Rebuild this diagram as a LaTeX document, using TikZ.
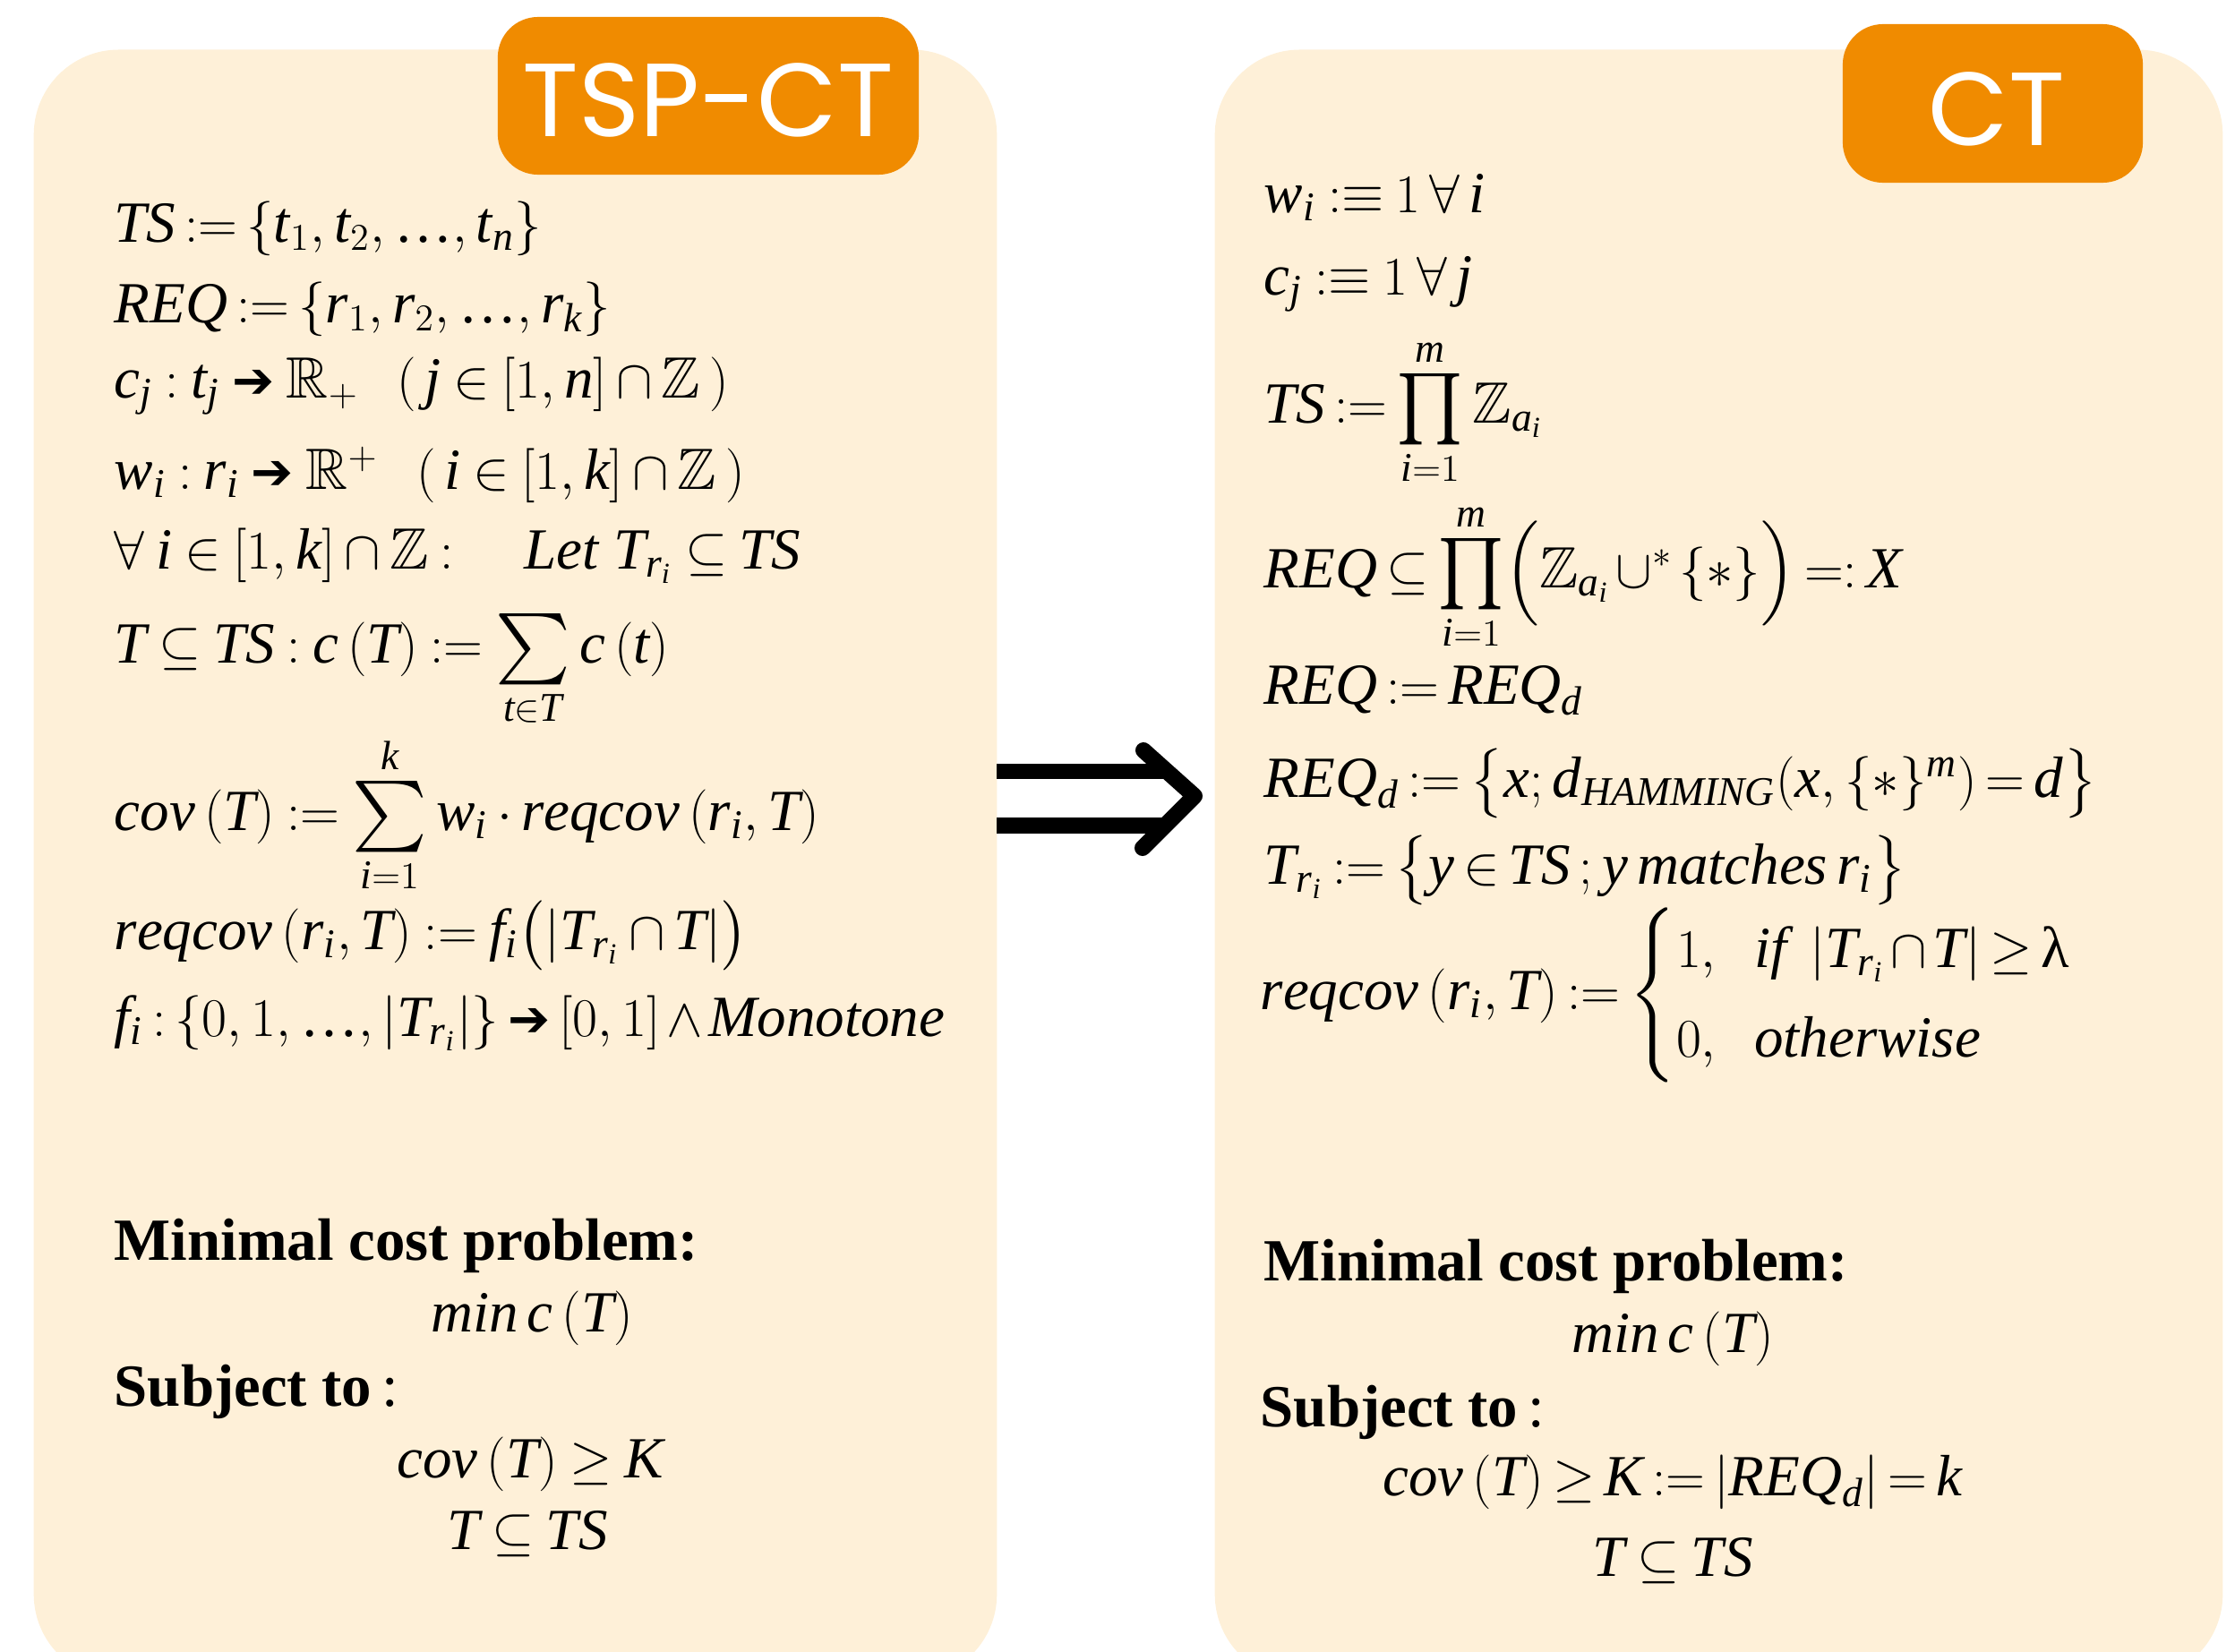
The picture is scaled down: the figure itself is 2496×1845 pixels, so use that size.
\documentclass[tikz,border=0pt]{standalone}
\usepackage{amsmath,amssymb}
\usepackage{graphicx}
\usepackage{fontspec}
\setmainfont{Liberation Serif}
\newfontfamily\tabfont{Poppins}
\newfontfamily\dvs{DejaVu Sans}
\definecolor{panelbg}{RGB}{254,240,216}
\definecolor{taborange}{RGB}{240,139,0}
\newcommand\mi[1]{\mathit{#1}}
\newcommand\harr{\mathrel{\text{\dvs\fontsize{16}{16}\selectfont ➔}}}
\newcommand\lam{\text{λ}}
\newcommand\myell{\text{…}}
\newcommand\bigop[1]{\mathop{\vcenter{\hbox{\scalebox{1.22}{$\textstyle#1$}}}}\limits}
\newcommand\tight{\thickmuskip=3mu plus 2mu\medmuskip=2mu plus 1mu}
\tikzset{
  panel/.style={fill=panelbg, draw=none, rounded corners=0.95cm, inner sep=0pt},
  tabbox/.style={fill=taborange, draw=none, rounded corners=0.45cm, inner sep=0pt},
  tabtext/.style={text=white, inner sep=0pt, font=\tabfont\fontsize{33}{36}\selectfont},
  eq/.style={anchor=base west, inner sep=0pt, font=\fontsize{18.5}{22}\selectfont},
  eqc/.style={anchor=base, inner sep=0pt, font=\fontsize{18.5}{22}\selectfont},
  boldline/.style={anchor=base west, inner sep=0pt, font=\fontsize{19}{22}\selectfont},
  bar/.style={line width=0.175cm, black},
  chevron/.style={line width=0.18cm, black, line cap=round, line join=round},
}
\begin{document}
\thickmuskip=4mu plus 2mu
\medmuskip=3mu plus 1mu
\begin{tikzpicture}[x=0.01cm,y=-0.01cm]
\useasboundingbox (0,0) rectangle (2496,1845);
\clip (0,0) rectangle (2496,1845);
% panels
\node[panel, minimum width=10.75cm, minimum height=18.19cm] (left) at (575.5,965.5) {};
\node[panel, minimum width=11.25cm, minimum height=18.19cm] (right) at (1919.5,965.5) {};
% tabs
\node[tabbox, minimum width=4.70cm, minimum height=1.76cm] (tabL) at (791,107) {};
\node[tabtext] (tabLt) at (791,112) {TSP-CT};
\node[tabbox, minimum width=3.35cm, minimum height=1.77cm] (tabR) at (2225.5,115.5) {};
\node[tabtext] (tabRt) at (2230,122) {CT};
% left column
\node[eq] (L1) at (127,270) {$\tight\mi{TS}:=\left\{\mi t_1,\mi t_2,\myell,\mi t_{\mi n}\right\}$};
\node[eq] (L2) at (127,360) {$\tight\mi{REQ}:=\left\{\mi r_1,\mi r_2,\myell,\mi r_{\mi k}\right\}$};
\node[eq] (L3) at (127,444) {$\mi c_{\mi j}:\mi t_{\mi j}\harr\mathbb{R}_{+}\ \ \left(\,\mi j\in\left[1,\mi n\right]\cap\mathbb{Z}\,\right)$};
\node[eq] (L4) at (127,546) {$\mi w_{\mi i}:\mi r_{\mi i}\harr\mathbb{R}^{+}\ \ \left(\,\mi i\in\left[1,\mi k\right]\cap\mathbb{Z}\,\right)$};
\node[eq] (L5) at (127,635) {$\forall\;\mi i\in\left[1,\mi k\right]\cap\mathbb{Z}:\quad\mi{Let}\ \mi T_{\mi r_{\mi i}}\subseteq\mi{TS}$};
\node[eq] (L6) at (127,740) {$\mi T\subseteq\mi{TS}:\mi c\left(\mi T\right):=\bigop{\sum}_{\mi t\in\mi T}\mi c\left(\mi t\right)$};
\node[eq] (L7) at (127,927) {$\mi{cov}\left(\mi T\right):=\bigop{\sum}_{\mi i=1}^{\mi k}\mi w_{\mi i}\cdot\mi{reqcov}\left(\mi r_{\mi i},\mi T\right)$};
\node[eq] (L8) at (127,1060) {$\mi{reqcov}\left(\mi r_{\mi i},\mi T\right):=\mi f_{\mi i}\bigl(\left|\mi T_{\mi r_{\mi i}}\cap\mi T\right|\bigr)$};
\node[eq] (L9) at (127,1157) {$\tight\mi f_{\mi i}:\left\{0,1,\myell,\left|\mi T_{\mi r_{\mi i}}\right|\right\}\harr\left[0,1\right]\wedge\mi{Monotone}$};
\node[boldline] (L10) at (127,1407) {\textbf{Minimal cost problem:}};
\node[eqc] (L11) at (594,1487) {$\mi{min}\,\mi c\left(\mi T\right)$};
\node[boldline] (L12) at (127,1570) {\textbf{Subject to}\,:};
\node[eqc] (L13) at (592,1650) {$\mi{cov}\left(\mi T\right)\geq\mi K$};
\node[eqc] (L14) at (589,1730) {$\mi T\subseteq\mi{TS}$};
% right column
\node[eq] (R1) at (1411,237) {$\mi w_{\mi i}:\equiv1\,\forall\,\mi i$};
\node[eq] (R2) at (1411,329) {$\mi c_{\mi j}:\equiv1\,\forall\,\mi j$};
\node[eq] (R3) at (1411,472) {$\tight\mi{TS}:=\bigop{\prod}_{\mi i=1}^{\mi m}\mathbb{Z}_{\mi a_{\mi i}}$};
\node[eq] (R4) at (1411,656) {$\tight\mi{REQ}\subseteq\bigop{\prod}_{\mi i=1}^{\mi m}\Bigl(\mathbb{Z}_{\mi a_{\mi i}}\cup^{*}\left\{\ast\right\}\Bigr)=:\mi X$};
\node[eq] (R5) at (1411,786) {$\tight\mi{REQ}:=\mi{REQ}_{\mi d}$};
\node[eq] (R6) at (1411,890) {$\tight\mi{REQ}_{\mi d}:=\bigl\{\mi x;\mi d_{\mi{HAMMING}}(\mi x,\{\ast\}^{\mi m})=\mi d\bigr\}$};
\node[eq] (R7) at (1411,987) {$\tight\mi T_{\mi r_{\mi i}}:=\bigl\{\mi y\in\mi{TS}\,;\mi y\,\mi{matches}\,\mi r_{\mi i}\bigr\}$};
\node[eq] (R8) at (1407,1127) {$\tight\mi{reqcov}\left(\mi r_{\mi i},\mi T\right):=\begin{cases}1,\ \ \mi{if}\ \left|\mi T_{\mi r_{\mi i}}\cap\mi T\right|\geq\lam\\[2pt] 0,\ \ \mi{otherwise}\end{cases}$};
\node[boldline] (R9) at (1411,1430) {\textbf{Minimal cost problem:}};
\node[eqc] (R10) at (1868,1510) {$\mi{min}\,\mi c\left(\mi T\right)$};
\node[boldline] (R11) at (1407,1593) {\textbf{Subject to}\,:};
\node[eqc] (R12) at (1868,1670) {$\tight\mi{cov}\left(\mi T\right)\geq\mi K:=\left|\mi{REQ}_{\mi d}\right|=\mi k$};
\node[eqc] (R13) at (1868,1760) {$\mi T\subseteq\mi{TS}$};
% implication arrow between the panels
\coordinate (b1s) at (1113,861.5);
\coordinate (b1e) at (1303,861.5);
\coordinate (b2s) at (1113,922);
\coordinate (b2e) at (1303,922);
\coordinate (cvt) at (1277,838);
\coordinate (cvm) at (1334,889);
\coordinate (cvb) at (1276,947);
\draw[bar] (b1s) -- (b1e);
\draw[bar] (b2s) -- (b2e);
\draw[chevron] (cvt) -- (cvm) -- (cvb);
\end{tikzpicture}
\end{document}
